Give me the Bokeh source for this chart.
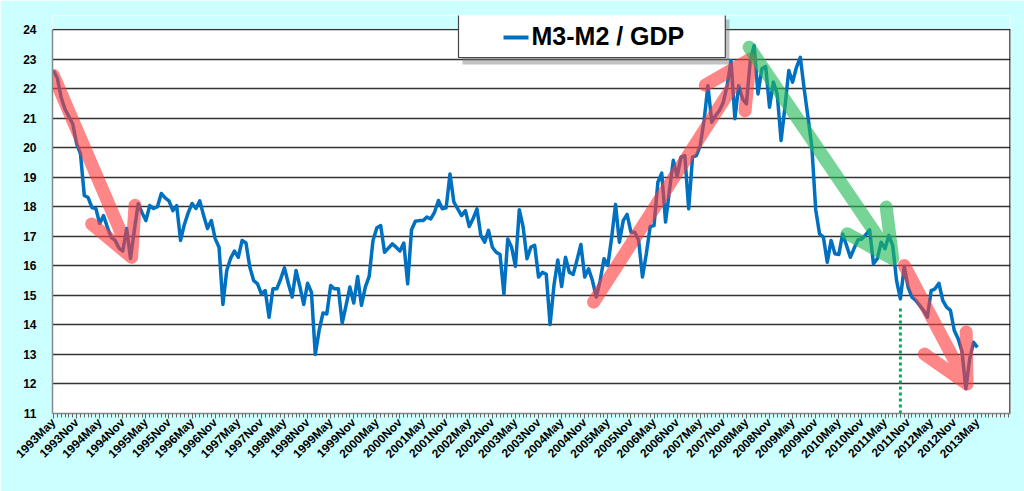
import numpy as np
from bokeh.plotting import figure
from bokeh.models import (Range1d, FixedTicker, Arrow, BoxAnnotation, Label,
                          ColumnDataSource)
from bokeh.embed import file_html
from bokeh.resources import INLINE

# ---------------- data ----------------
tick_labels = []
for yr in range(1993, 2014):
    tick_labels += [f"{yr}May", f"{yr}Nov"]
tick_labels = tick_labels[:-1]          # 1993May ... 2013May

m3m2_gdp = [
    22.61, 22.35, 21.70, 21.30, 21.05, 20.80, 20.14, 19.80, 18.38, 18.31,
    17.97, 17.94, 17.43, 17.70, 17.30, 16.96, 16.86, 16.60, 16.50, 17.26,
    16.25, 17.20, 18.10, 17.80, 17.53, 18.04, 17.94, 18.00, 18.45, 18.30,
    18.20, 17.87, 18.04, 16.86, 17.40, 17.80, 18.11, 17.94, 18.20, 17.70,
    17.26, 17.53, 16.92, 16.63, 14.69, 15.84, 16.25, 16.50, 16.29, 16.86,
    16.77, 15.95, 15.50, 15.39, 15.05, 15.16, 14.26, 15.22, 15.22, 15.55,
    15.93, 15.40, 14.94, 15.84, 15.30, 14.69, 15.41, 15.11, 13.00, 13.81,
    14.40, 14.37, 15.33, 15.22, 15.22, 14.06, 14.66, 15.28, 14.74, 15.64,
    14.66, 15.28, 15.64, 16.86, 17.29, 17.36, 16.46, 16.60, 16.74, 16.63,
    16.50, 16.77, 15.39, 17.22, 17.51, 17.53, 17.53, 17.65, 17.59, 17.82,
    18.21, 17.93, 17.96, 19.11, 18.16, 17.93, 17.70, 17.87, 17.33, 17.60,
    17.93, 17.03, 16.80, 17.20, 16.63, 16.46, 16.38, 15.05, 16.91, 16.63,
    15.98, 17.90, 17.31, 16.24, 16.63, 16.69, 15.62, 15.78, 15.71, 14.01,
    15.33, 16.20, 15.30, 16.29, 15.78, 15.71, 16.20, 16.72, 15.62, 15.90,
    15.50, 14.94, 15.50, 16.24, 16.01, 16.97, 18.08, 16.80, 17.53, 17.74,
    17.14, 17.14, 16.86, 15.62, 16.41, 17.33, 17.36, 18.83, 19.14, 17.48,
    18.55, 19.57, 19.02, 19.68, 19.73, 17.93, 19.68, 19.73, 20.07, 20.92,
    22.10, 20.86, 21.09, 21.26, 21.54, 22.10, 22.95, 20.98, 22.10, 21.65,
    21.48, 22.95, 23.46, 21.82, 22.67, 22.75, 21.37, 22.22, 21.82, 20.24,
    21.37, 22.61, 22.22, 22.72, 23.06, 21.99, 21.03, 20.02, 17.90, 17.08,
    16.97, 16.12, 16.86, 16.41, 16.38, 17.08, 16.69, 16.29, 16.60, 16.88,
    16.91, 17.05, 17.22, 16.07, 16.24, 16.80, 16.58, 17.03, 16.69, 15.50,
    14.88, 15.98, 15.28, 14.94, 14.83, 14.66, 14.49, 14.26, 15.16, 15.22,
    15.41, 14.83, 14.60, 14.49, 13.81, 13.53, 13.10, 11.84, 12.85, 13.41,
    13.24,
]
month_index = list(range(len(m3m2_gdp)))

# trend arrows (month index, value)
red_arrows = [((0.0, 22.44), (20.3, 16.29)),
              ((140.3, 14.77), (181.0, 23.0)),
              ((221.0, 16.01), (237.3, 12.0))]
green_arrows = [((180.7, 23.4), (218.0, 16.24))]
marker_month = 220      # 2011Sep low, dotted marker
legend_label = "M3-M2 / GDP"

# ---------------- figure ----------------
FONT = "Liberation Sans"
BG = "#ccffff"
W, H = 1024, 491
BL, BR, BT, BB = 52, 14, 15, 78          # frame reaches up to the legend box top
YMIN, YMAX = 11, 24                       # value axis
PX_PER_UNIT = 384 / (YMAX - YMIN)
X0, X1 = -0.26, 248.6
Y1 = YMAX + (29 - BT) / PX_PER_UNIT       # extra headroom above 24 (painted as background)

p = figure(width=W, height=H, output_backend="svg", toolbar_location=None,
           x_range=Range1d(X0, X1), y_range=Range1d(YMIN, Y1),
           min_border_left=BL, min_border_right=BR, min_border_top=BT, min_border_bottom=BB)
p.border_fill_color = BG
p.background_fill_color = "white"
p.outline_line_color = None

# headroom band painted like the page background
p.add_layout(BoxAnnotation(bottom=YMAX + 0.025, fill_color=BG, fill_alpha=1.0,
                           line_color=None, level="underlay"))

src = ColumnDataSource(dict(x=month_index, y=m3m2_gdp))
line = p.line("x", "y", source=src, line_color="#0070c0", line_width=3.5, line_join="round")

# axes
p.xaxis.ticker = FixedTicker(ticks=list(range(0, 241, 6)), minor_ticks=list(range(0, 249)))
p.xaxis.major_label_overrides = {i * 6: lab for i, lab in enumerate(tick_labels)}
p.xaxis.major_label_orientation = np.pi / 4
p.xaxis.major_label_text_font = FONT
p.xaxis.major_label_text_font_style = "bold"
p.xaxis.major_label_text_font_size = "12px"
p.xaxis.major_label_text_color = "black"
p.xaxis.axis_line_color = "#888888"
p.xaxis.axis_line_width = 1.5
p.xaxis.major_tick_line_color = "#666666"
p.xaxis.minor_tick_line_color = "#666666"
p.xaxis.major_tick_out = 5
p.xaxis.major_tick_in = 0
p.xaxis.minor_tick_out = 4
p.xaxis.minor_tick_in = 0
p.xaxis.major_label_standoff = 2

p.yaxis.ticker = FixedTicker(ticks=list(range(YMIN, YMAX + 1)))
p.yaxis.bounds = (YMIN, YMAX)
p.yaxis.major_label_text_font = FONT
p.yaxis.major_label_text_font_style = "bold"
p.yaxis.major_label_text_font_size = "12px"
p.yaxis.major_label_text_color = "black"
p.yaxis.axis_line_color = "#888888"
p.yaxis.axis_line_width = 1.5
p.yaxis.major_tick_line_color = None
p.yaxis.minor_tick_line_color = None
p.yaxis.major_label_standoff = 10

p.xgrid.grid_line_color = None
p.ygrid.grid_line_color = "#333333"
p.ygrid.grid_line_width = 1.3

# right frame border
p.segment(x0=[X1 - 0.12], y0=[YMIN], x1=[X1 - 0.12], y1=[YMAX],
          line_color="#222222", line_width=1.5)

# dotted marker
p.segment(x0=[marker_month], y0=[YMIN], x1=[marker_month], y1=[14.6],
          line_color="#00b050", line_width=3, line_dash="3 3")

# arrows: shaft + open head as a single stroked path (uniform transparency)
sx = (W - BL - BR) / (X1 - X0)
sy = PX_PER_UNIT
HEAD_LEN, HEAD_ANG = 52.0, np.deg2rad(27)

def arrow_path(s, e):
    dx, dy = (e[0] - s[0]) * sx, (e[1] - s[1]) * sy
    n = np.hypot(dx, dy)
    bx, by = -dx / n, -dy / n
    pts = [s, e]
    for a in (HEAD_ANG, -HEAD_ANG):
        rx = bx * np.cos(a) - by * np.sin(a)
        ry = bx * np.sin(a) + by * np.cos(a)
        pts.append((e[0] + HEAD_LEN * rx / sx, e[1] + HEAD_LEN * ry / sy))
        pts.append(e)
    pts = pts[:-1]
    return [q[0] for q in pts], [q[1] for q in pts]

for arrows, color in ((red_arrows, "#ff3b3b"), (green_arrows, "#22bb55")):
    for s, e in arrows:
        ax, ay = arrow_path(s, e)
        p.line(ax, ay, line_color=color, line_width=13, line_alpha=0.62,
               line_join="round", line_cap="round")

# legend box: shadow + boxed label + sample line (screen units from frame bottom-left)
p.add_layout(BoxAnnotation(left=410, right=677, bottom=349, top=394,
                           left_units="screen", right_units="screen",
                           bottom_units="screen", top_units="screen",
                           fill_color="#777777", fill_alpha=0.45, line_color=None))
p.add_layout(Label(x=406, y=378, x_units="screen", y_units="screen",
                   text=legend_label, text_font=FONT, text_font_style="bold",
                   text_font_size="25px", text_color="black",
                   text_align="left", text_baseline="middle",
                   padding=dict(left=73, right=41, top=8, bottom=8),
                   background_fill_color="white", background_fill_alpha=1.0,
                   border_line_color="#444444", border_line_width=1.2))
p.add_layout(Arrow(end=None, x_start=451, y_start=376, x_end=476, y_end=376,
                   start_units="screen", end_units="screen",
                   line_color="#0070c0", line_width=4))

open("out.html", "w").write(file_html(p, INLINE))
